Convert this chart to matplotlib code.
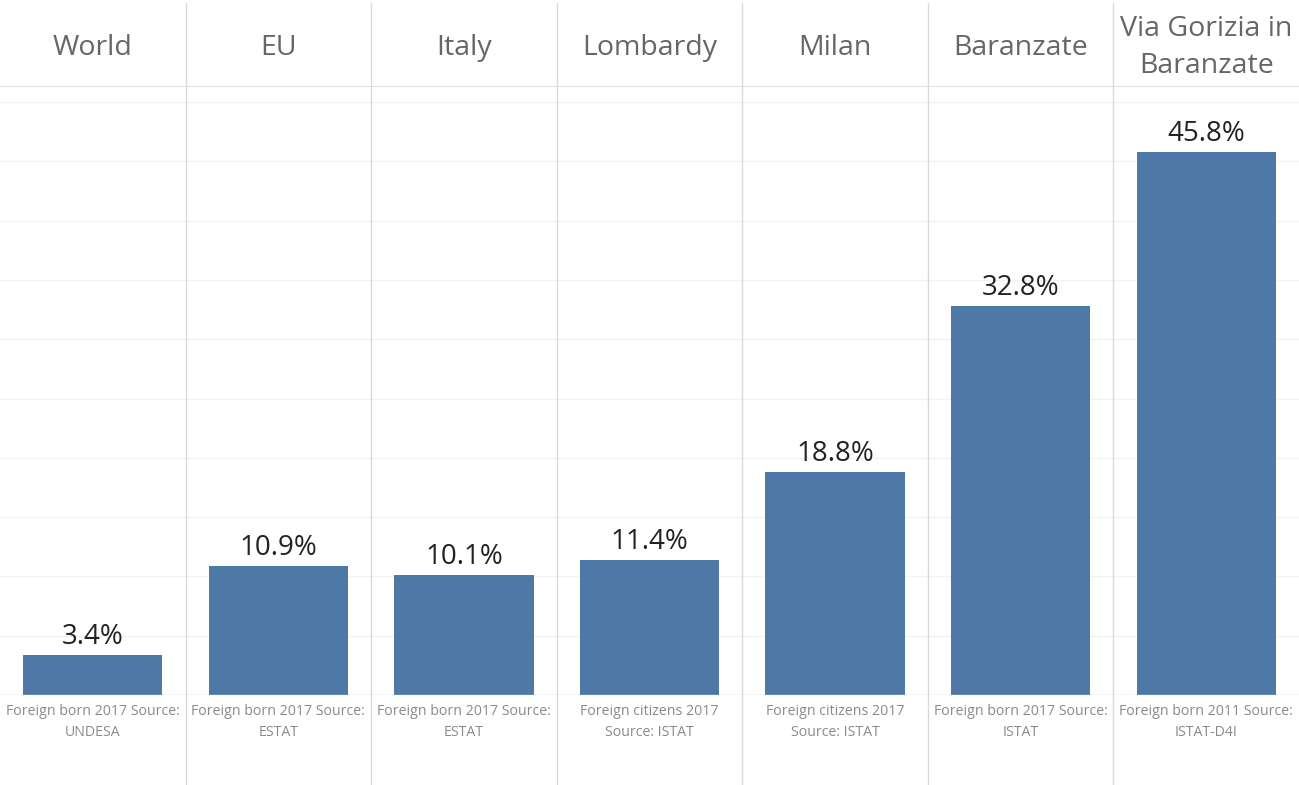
import matplotlib.pyplot as plt

regions = ["World", "EU", "Italy", "Lombardy", "Milan", "Baranzate", "Via Gorizia in\nBaranzate"]
shares = [3.4, 10.9, 10.1, 11.4, 18.8, 32.8, 45.8]
notes = [
    "Foreign born 2017 Source:\nUNDESA",
    "Foreign born 2017 Source:\nESTAT",
    "Foreign born 2017 Source:\nESTAT",
    "Foreign citizens 2017\nSource: ISTAT",
    "Foreign citizens 2017\nSource: ISTAT",
    "Foreign born 2017 Source:\nISTAT",
    "Foreign born 2011 Source:\nISTAT-D4I",
]
gridlines = [5, 10, 15, 20, 25, 30, 35, 40, 45, 50]

plt.rcParams["font.family"] = ["Open Sans", "DejaVu Sans"]

W, H = 1299, 785
fig = plt.figure(figsize=(W / 100, H / 100), dpi=100)

top_px, base_px = 87, 695
n = len(regions)
xs = list(range(n))
sep_color = "#d9d9d9"

# header strip
ax_head = fig.add_axes([0, 1 - top_px / H, 1, (top_px - 3) / H])
# main plot
ax = fig.add_axes([0, 1 - base_px / H, 1, (base_px - top_px) / H])
# footer strip
ax_foot = fig.add_axes([0, 0, 1, 1 - base_px / H])

for a in (ax_head, ax, ax_foot):
    a.set_xlim(-0.5, n - 0.5)
    a.axis("off")
    for i in range(n - 1):
        a.axvline(i + 0.5, color=sep_color, lw=1)

ax_head.set_ylim(0, 1)
for x, name in zip(xs, regions):
    ax_head.text(x, 0.47, name, ha="center", va="center", fontsize=20.5,
                 color="#666666", linespacing=1.45)
ax_head.axhline(0, color="#dddddd", lw=2)

ax.set_ylim(0, (base_px - top_px) / 11.86)
for g in gridlines:
    ax.axhline(g, color="#f2f2f2", lw=1, zorder=0)
ax.axhline(0, color="#d4d4d4", lw=1, zorder=3)
ax.bar(xs, shares, width=0.75, color="#4e79a7", zorder=2)
for x, v in zip(xs, shares):
    ax.annotate(f"{v:.1f}%", (x, v), xytext=(0, 3), textcoords="offset points",
                ha="center", va="bottom", fontsize=20, color="#222222")

ax_foot.set_ylim(0, 1)
for x, note in zip(xs, notes):
    ax_foot.text(x, 0.9, note, ha="center", va="top", fontsize=10.2,
                 color="#8a8a8a", linespacing=1.5)

fig.savefig("out.png", dpi=100)
